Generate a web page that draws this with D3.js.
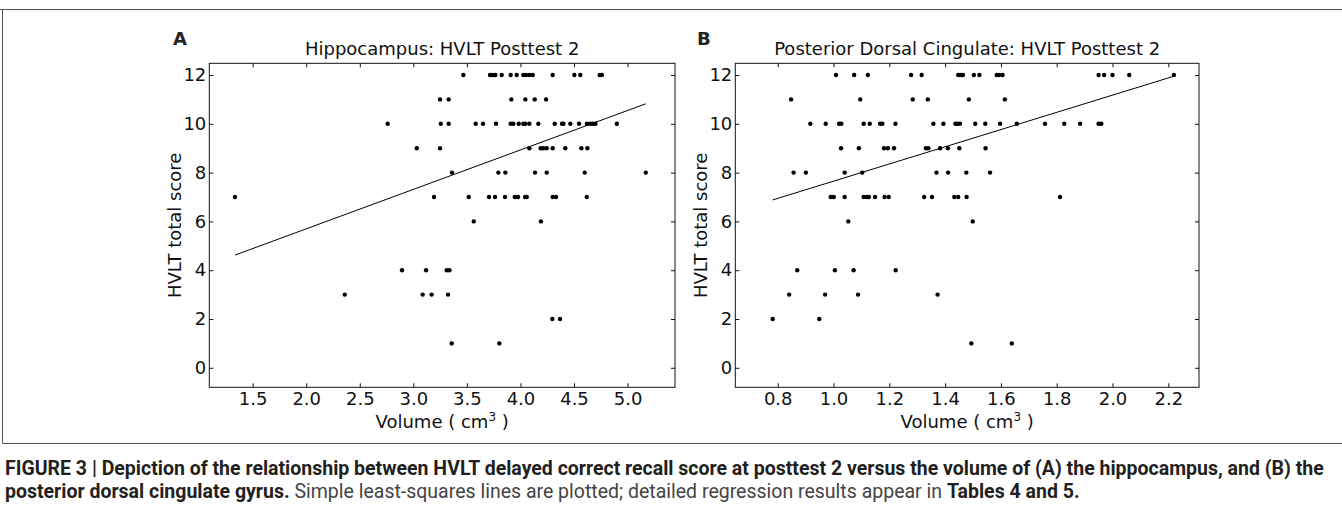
<!DOCTYPE html>
<html>
<head>
<meta charset="utf-8">
<script src="https://cdn.jsdelivr.net/npm/d3@7"></script>
<style>
  body { margin: 0; background: #fff; }
  svg { display: block; }
  .tick text { font-family: "DejaVu Sans", sans-serif; }
</style>
</head>
<body>
<svg id="canvas" width="1342" height="515"></svg>
<script>
// Panel A: hippocampus volume (cm3) vs HVLT score
var hipVolume = [1.335, 2.76, 2.36,
  3.467, 3.716, 3.741, 3.766, 3.825, 3.909, 3.965, 4.027, 4.052, 4.083, 4.115, 4.301, 4.503, 4.559, 4.74, 4.76,
  3.249, 3.330, 3.915, 4.046, 4.133, 4.239,
  3.256, 3.330, 3.582, 3.651, 3.772, 3.909, 3.934, 3.984, 4.027, 4.046, 4.083, 4.167, 4.320, 4.388, 4.401, 4.466, 4.547, 4.62, 4.65, 4.675, 4.70, 4.90,
  3.032, 3.249, 4.083, 4.189, 4.214, 4.245, 4.301, 4.419, 4.569, 4.625,
  3.361, 3.794, 3.859, 4.136, 4.245, 4.600, 5.17,
  3.193, 3.517, 3.707, 3.763, 3.856, 3.947, 3.978, 4.043, 4.059, 4.301, 4.332, 4.619,
  3.564, 4.191,
  2.894, 3.119, 3.312, 3.337,
  3.087, 3.171, 3.324,
  4.298, 4.370,
  3.358, 3.803];
var hipScore = [7, 10, 3,
  12, 12, 12, 12, 12, 12, 12, 12, 12, 12, 12, 12, 12, 12, 12, 12,
  11, 11, 11, 11, 11, 11,
  10, 10, 10, 10, 10, 10, 10, 10, 10, 10, 10, 10, 10, 10, 10, 10, 10, 10, 10, 10, 10, 10,
  9, 9, 9, 9, 9, 9, 9, 9, 9, 9,
  8, 8, 8, 8, 8, 8, 8,
  7, 7, 7, 7, 7, 7, 7, 7, 7, 7, 7, 7,
  6, 6,
  4, 4, 4, 4,
  3, 3, 3,
  2, 2,
  1, 1];
var hipFitX = [1.335, 5.17];
var hipFitY = [4.62, 10.82];
var hipTicks = [1.5, 2.0, 2.5, 3.0, 3.5, 4.0, 4.5, 5.0];

// Panel B: posterior dorsal cingulate volume vs HVLT score
var pdcVolume = [1.009, 1.074, 1.123, 1.278, 1.316, 1.447, 1.456, 1.464, 1.503, 1.523, 1.585, 1.594, 1.606, 1.95, 1.97, 2.00, 2.06, 2.22,
  0.848, 1.096, 1.284, 1.338, 1.485, 1.614,
  0.917, 0.972, 1.020, 1.028, 1.108, 1.130, 1.167, 1.175, 1.222, 1.358, 1.394, 1.437, 1.444, 1.453, 1.508, 1.544, 1.597, 1.657, 1.758, 1.827, 1.884, 1.95, 1.96,
  1.027, 1.091, 1.181, 1.195, 1.217, 1.331, 1.340, 1.382, 1.410, 1.451, 1.545,
  0.857, 0.901, 1.040, 1.103, 1.369, 1.411, 1.476, 1.561,
  0.990, 1.001, 1.040, 1.108, 1.119, 1.127, 1.149, 1.183, 1.198, 1.325, 1.353, 1.433, 1.447, 1.477, 1.812,
  1.053, 1.499,
  0.870, 1.005, 1.072, 1.223,
  0.841, 0.970, 1.088, 1.373,
  0.782, 0.949,
  1.494, 1.639];
var pdcScore = [12, 12, 12, 12, 12, 12, 12, 12, 12, 12, 12, 12, 12, 12, 12, 12, 12, 12,
  11, 11, 11, 11, 11, 11,
  10, 10, 10, 10, 10, 10, 10, 10, 10, 10, 10, 10, 10, 10, 10, 10, 10, 10, 10, 10, 10, 10, 10,
  9, 9, 9, 9, 9, 9, 9, 9, 9, 9, 9,
  8, 8, 8, 8, 8, 8, 8, 8,
  7, 7, 7, 7, 7, 7, 7, 7, 7, 7, 7, 7, 7, 7, 7,
  6, 6,
  4, 4, 4, 4,
  3, 3, 3, 3,
  2, 2,
  1, 1];
var pdcFitX = [0.782, 2.22];
var pdcFitY = [6.88, 11.95];
var pdcTicks = [0.8, 1.0, 1.2, 1.4, 1.6, 1.8, 2.0, 2.2];

var scoreTicks = [0, 2, 4, 6, 8, 10, 12];

const svg = d3.select('svg#canvas');
const plotTop = 63.3, plotBottom = 387.3;
const ink = "#111";

// figure frame
svg.append('line').attr('x1', 0).attr('x2', 1342).attr('y1', 9.5).attr('y2', 9.5)
  .attr('stroke', '#555').attr('stroke-width', 1);
svg.append('line').attr('x1', 2.5).attr('x2', 2.5).attr('y1', 9.5).attr('y2', 443.5)
  .attr('stroke', '#555').attr('stroke-width', 1);
svg.append('line').attr('x1', 2.5).attr('x2', 1342).attr('y1', 443.5).attr('y2', 443.5)
  .attr('stroke', '#555').attr('stroke-width', 1);

function drawPanel(opt) {
  const x = d3.scaleLinear().domain(opt.xDomain).range([opt.left, opt.right]);
  const y = d3.scaleLinear().domain([-0.8, 12.48]).range([plotBottom, plotTop]);
  const g = svg.append('g');

  // ticks on all four sides, pointing in
  const axes = [
    [d3.axisBottom(x).tickValues(opt.ticks).tickFormat(d3.format('.1f')), `translate(0,${plotBottom})`, 5],
    [d3.axisTop(x).tickValues(opt.ticks).tickFormat(''), `translate(0,${plotTop})`, 0],
    [d3.axisLeft(y).tickValues(scoreTicks).tickFormat(d3.format('d')), `translate(${opt.left},0)`, 3],
    [d3.axisRight(y).tickValues(scoreTicks).tickFormat(''), `translate(${opt.right},0)`, 0]
  ];
  axes.forEach(a => {
    const ax = g.append('g').attr('transform', a[1])
      .call(a[0].tickSizeInner(-4).tickSizeOuter(0).tickPadding(a[2]));
    ax.select('.domain').remove();
    ax.selectAll('.tick line').attr('stroke', ink).attr('stroke-width', 1);
    ax.selectAll('.tick text').attr('font-size', 18).attr('fill', ink);
  });

  g.append('rect')
    .attr('x', opt.left).attr('y', plotTop)
    .attr('width', opt.right - opt.left).attr('height', plotBottom - plotTop)
    .attr('fill', 'none').attr('stroke', ink).attr('stroke-width', 1);

  // points
  g.selectAll('circle.pt').data(opt.vx.map((v, i) => [v, opt.vy[i]]))
    .enter().append('circle').classed('pt', true)
    .attr('cx', d => x(d[0])).attr('cy', d => y(d[1]))
    .attr('r', 2.2).attr('fill', '#000');

  // least squares line
  g.append('path')
    .datum(opt.fitX.map((v, i) => [v, opt.fitY[i]]))
    .attr('d', d3.line().x(d => x(d[0])).y(d => y(d[1])))
    .attr('stroke', '#000').attr('stroke-width', 1).attr('fill', 'none');

  const mid = (opt.left + opt.right) / 2;
  g.append('text').attr('x', mid).attr('y', 55).attr('text-anchor', 'middle')
    .attr('font-family', 'DejaVu Sans').attr('font-size', 18).attr('fill', ink)
    .text(opt.title);
  g.append('text').attr('x', opt.letterX).attr('y', 45)
    .attr('font-family', 'DejaVu Sans').attr('font-weight', 'bold').attr('font-size', 18).attr('fill', '#222')
    .text(opt.letter);

  const xl = g.append('text').attr('x', mid).attr('y', 428).attr('text-anchor', 'middle')
    .attr('font-family', 'DejaVu Sans').attr('font-size', 18).attr('fill', ink);
  xl.append('tspan').text('Volume ( cm');
  xl.append('tspan').attr('font-size', 12).attr('dy', -7).text('3');
  xl.append('tspan').attr('dy', 7).text(' )');

  g.append('text')
    .attr('transform', `translate(${opt.left - 28.5},${(plotTop + plotBottom) / 2}) rotate(-90)`)
    .attr('text-anchor', 'middle')
    .attr('font-family', 'DejaVu Sans').attr('font-size', 18).attr('fill', ink)
    .text('HVLT total score');
}

drawPanel({
  xDomain: [1.095, 5.443], left: 209.3, right: 675,
  ticks: hipTicks, vx: hipVolume, vy: hipScore, fitX: hipFitX, fitY: hipFitY,
  title: 'Hippocampus: HVLT Posttest 2', letter: 'A', letterX: 173
});
drawPanel({
  xDomain: [0.648, 2.310], left: 735.3, right: 1199,
  ticks: pdcTicks, vx: pdcVolume, vy: pdcScore, fitX: pdcFitX, fitY: pdcFitY,
  title: 'Posterior Dorsal Cingulate: HVLT Posttest 2', letter: 'B', letterX: 697
});

// caption
const cap = svg.append('g').attr('font-family', '"Liberation Sans Narrow", "Roboto", sans-serif')
  .attr('font-size', 19.5);
const l1 = cap.append('text').attr('x', 5).attr('y', 475).attr('fill', '#231f20').attr('font-weight', 'bold');
l1.text('FIGURE 3 | Depiction of the relationship between HVLT delayed correct recall score at posttest 2 versus the volume of (A) the hippocampus, and (B) the');
const l2 = cap.append('text').attr('x', 5).attr('y', 498).attr('fill', '#231f20');
l2.append('tspan').attr('font-weight', 'bold').text('posterior dorsal cingulate gyrus.');
l2.append('tspan').attr('fill', '#444').text(' Simple least-squares lines are plotted; detailed regression results appear in ');
l2.append('tspan').attr('font-weight', 'bold').text('Tables 4 and 5.');
</script>
</body>
</html>
